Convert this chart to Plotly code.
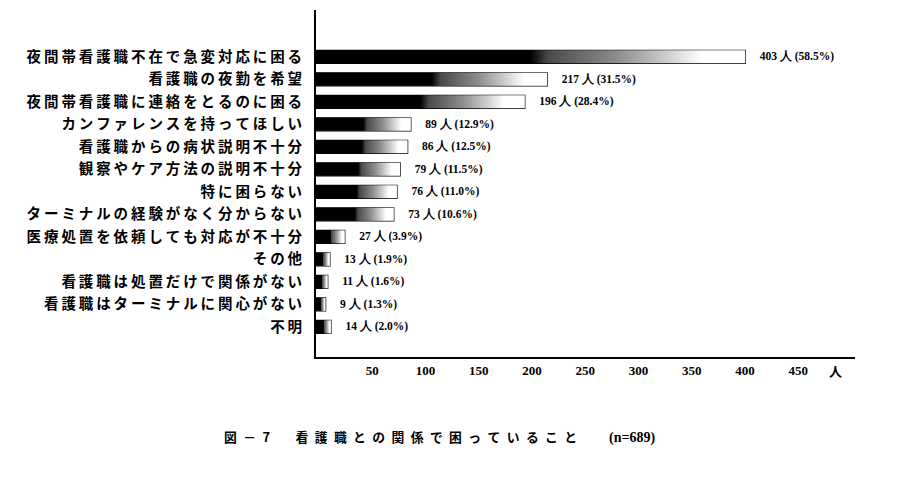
import plotly.graph_objects as go

# 看護職との関係で困っていること (n=689)
categories = [
    "夜間帯看護職不在で急変対応に困る",
    "看護職の夜勤を希望",
    "夜間帯看護職に連絡をとるのに困る",
    "カンファレンスを持ってほしい",
    "看護職からの病状説明不十分",
    "観察やケア方法の説明不十分",
    "特に困らない",
    "ターミナルの経験がなく分からない",
    "医療処置を依頼しても対応が不十分",
    "その他",
    "看護職は処置だけで関係がない",
    "看護職はターミナルに関心がない",
    "不明",
]
counts = [403, 217, 196, 89, 86, 79, 76, 73, 27, 13, 11, 9, 14]
percents = [58.5, 31.5, 28.4, 12.9, 12.5, 11.5, 11.0, 10.6, 3.9, 1.9, 1.6, 1.3, 2.0]
tick_values = [50, 100, 150, 200, 250, 300, 350, 400, 450]
unit_label = "人"
fig_label = "図－7"
fig_title = "看護職との関係で困っていること"
n_label = "(n=689)"

# spread characters a little, like the printed original
spaced = ["\u2009".join(c) for c in categories]
caption = ("\u2002".join(fig_label) + "\u3000\u3000" + "\u2002".join(fig_title)
           + "\u3000\u3000\u2002"
           + f"<span style='font-family:Liberation Serif;font-size:14px'>{n_label}</span>")

pos = list(range(len(categories)))
half = 0.29  # half bar thickness

# black -> grey -> white shading of each bar
shade = [[0, "#000"], [0.5, "#000"], [0.54, "#4a4a4a"], [0.7, "#8c8c8c"],
         [0.82, "#cfcfcf"], [0.9, "#fff"], [1, "#fff"]]

fig = go.Figure()

for i, v in zip(pos, counts):
    fig.add_trace(go.Scatter(
        x=[0, v, v, 0, 0],
        y=[i - half, i - half, i + half, i + half, i - half],
        mode="lines",
        fill="toself",
        fillgradient=dict(type="horizontal", colorscale=shade),
        line=dict(width=0),
        hoverinfo="skip",
        showlegend=False,
    ))

# outline + value labels
fig.add_trace(go.Bar(
    y=pos,
    x=counts,
    orientation="h",
    width=2 * half,
    marker=dict(color="rgba(0,0,0,0)", line=dict(color="black", width=1.3)),
    text=[f"\u2003{c} 人 ({p:.1f}%)" for c, p in zip(counts, percents)],
    textposition="outside",
    textfont=dict(family="Liberation Serif", size=11.5, color="black", weight="bold"),
    cliponaxis=False,
    showlegend=False,
))

fig.update_layout(
    width=896,
    height=469,
    plot_bgcolor="white",
    paper_bgcolor="white",
    margin=dict(l=308, r=49, t=2, b=120),
    font=dict(family="Noto Sans CJK JP", color="black"),
    xaxis=dict(
        range=[0, 506],
        tickvals=tick_values,
        ticks="",
        showgrid=False,
        zeroline=False,
        showline=True,
        linecolor="black",
        linewidth=2,
        ticklabelshift=3,
        tickfont=dict(family="Liberation Serif", size=13, weight="bold"),
    ),
    yaxis=dict(
        range=[13.34, -2.08],
        tickvals=pos,
        ticktext=spaced,
        ticks="",
        showgrid=False,
        zeroline=False,
        showline=True,
        linecolor="black",
        linewidth=2,
        ticklabelstandoff=9,
        tickfont=dict(family="Noto Sans CJK JP", size=14.5, weight="bold"),
    ),
    annotations=[
        dict(text=unit_label, xref="paper", yref="paper", x=0.98, y=-0.04,
             showarrow=False, font=dict(size=13, weight="bold"), yanchor="middle"),
        dict(text=caption, xref="paper", yref="paper", x=0.23, y=-0.23,
             xanchor="center", showarrow=False, font=dict(size=12.8, weight="bold"),
             yanchor="middle"),
    ],
)

fig.write_html("out.html")
